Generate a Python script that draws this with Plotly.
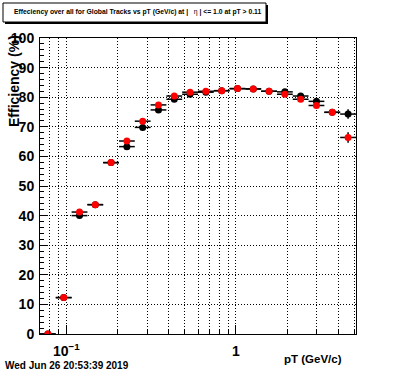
import math
import plotly.graph_objects as go

# ---- data ----
pt_edges = [0.07, 0.0867, 0.1075, 0.1332, 0.1650, 0.2045, 0.2534, 0.3140, 0.3890,
            0.4820, 0.5973, 0.7401, 0.9171, 1.1364, 1.4081, 1.7447, 2.1619, 2.6789,
            3.3194, 4.1131, 5.10]
eff_black = [0.0, 12.3, 40.0, 43.7, 57.9, 63.3, 69.8, 75.7, 79.3, 81.0,
             81.7, 82.2, 82.9, 82.8, 82.0, 81.8, 80.4, 78.6, 74.9, 74.3]
eff_red = [0.0, 12.3, 41.2, 43.7, 57.9, 65.2, 71.9, 77.4, 80.4, 81.7,
           82.0, 82.2, 82.9, 82.8, 82.0, 81.0, 79.3, 77.2, 74.9, 66.4]
err_black = [0.0, 0.3, 0.3, 0.3, 0.3, 0.3, 0.3, 0.3, 0.3, 0.3,
             0.3, 0.3, 0.3, 0.3, 0.4, 0.4, 0.5, 0.6, 0.9, 1.6]
err_red = [0.0, 0.3, 0.3, 0.3, 0.3, 0.3, 0.3, 0.3, 0.3, 0.3,
           0.3, 0.3, 0.3, 0.3, 0.4, 0.4, 0.5, 0.6, 1.0, 1.8]
x_major = [0.1, 1]
x_major_text = ["10<sup>\u22121</sup>", "1"]
x_minor = [0.08, 0.09, 0.2, 0.3, 0.4, 0.5, 0.6, 0.7, 0.8, 0.9, 2, 3, 4, 5]

lo = pt_edges[:-1]
hi = pt_edges[1:]
pt = [math.sqrt(a * b) for a, b in zip(lo, hi)]
ex_plus = [b - c for b, c in zip(hi, pt)]
ex_minus = [c - a for a, c in zip(lo, pt)]

W, H = 396, 372
L, R, T, B = 40, 40, 38, 38
FONT = "Liberation Sans"
DOT = "1px,2px"


def px2x(px):
    return (px - L) / (W - L - R)


def py2y(py):
    return (H - B - py) / (H - T - B)


fig = go.Figure()
for yv, ye, col in [(eff_black, err_black, "#000000"), (eff_red, err_red, "#ff0000")]:
    fig.add_trace(go.Scatter(
        x=pt, y=yv, mode="markers",
        marker=dict(symbol="circle", size=7, color=col, line=dict(width=0)),
        error_x=dict(type="data", symmetric=False, array=ex_plus, arrayminus=ex_minus,
                     color="#000000", thickness=1.5, width=0),
        error_y=dict(type="data", array=ye, color="#000000", thickness=1.5, width=0),
        showlegend=False, cliponaxis=True,
    ))

fig.update_layout(
    width=W, height=H,
    margin=dict(l=L, r=R, t=T, b=B, pad=0),
    paper_bgcolor="white", plot_bgcolor="white",
    font=dict(family=FONT, color="black"),
    xaxis=dict(
        type="log", range=[math.log10(0.07), math.log10(5.1)],
        tickmode="array", tickvals=x_major, ticktext=x_major_text,
        ticks="inside", ticklen=9, tickwidth=1, tickcolor="black",
        showgrid=True, gridcolor="black", gridwidth=1, griddash=DOT,
        minor=dict(tickmode="array", tickvals=x_minor, ticks="inside", ticklen=5,
                   tickwidth=1, tickcolor="black", showgrid=True,
                   gridcolor="black", gridwidth=1, griddash=DOT),
        showline=True, linecolor="black", linewidth=1, mirror=True,
        zeroline=False,
        tickfont=dict(family=FONT, size=14, color="black", weight="bold"),
        ticklabelstandoff=4,
    ),
    yaxis=dict(
        range=[0, 100], tickmode="linear", tick0=0, dtick=10,
        ticks="inside", ticklen=8, tickwidth=1, tickcolor="black",
        showgrid=True, gridcolor="black", gridwidth=1, griddash=DOT,
        minor=dict(dtick=2, ticks="inside", ticklen=4, tickwidth=1,
                   tickcolor="black", showgrid=False),
        showline=True, linecolor="black", linewidth=1, mirror=True,
        zeroline=False,
        tickfont=dict(family=FONT, size=14, color="black", weight="bold"),
        ticklabelstandoff=2,
    ),
)

# title box with shadow
fig.add_shape(type="rect", xref="paper", yref="paper",
              x0=px2x(5), x1=px2x(268), y0=py2y(24), y1=py2y(5),
              fillcolor="black", line=dict(width=0), layer="above")
fig.add_shape(type="rect", xref="paper", yref="paper",
              x0=px2x(3), x1=px2x(266), y0=py2y(22), y1=py2y(3),
              fillcolor="white", line=dict(color="black", width=1), layer="above")

fig.add_annotation(
    xref="paper", yref="paper", x=px2x(138), y=py2y(12.5),
    xanchor="center", yanchor="middle", showarrow=False,
    text="<b>Effeciency over all for Global Tracks vs pT (GeV/c) at |</b>   \u03b7 <b>| &lt;= 1.0 at pT &gt; 0.11</b>",
    font=dict(family=FONT, size=6.8, color="black"),
)
fig.add_annotation(
    xref="paper", yref="paper", x=px2x(14), y=py2y(81),
    xanchor="center", yanchor="middle", showarrow=False, textangle=-90,
    text="<b>Efficiency (%)</b>",
    font=dict(family=FONT, size=14, color="black"),
)
fig.add_annotation(
    xref="paper", yref="paper", x=px2x(344), y=py2y(359),
    xanchor="right", yanchor="middle", showarrow=False,
    text="<b>pT (GeV/c)</b>",
    font=dict(family=FONT, size=11.5, color="black"),
)
fig.add_annotation(
    xref="paper", yref="paper", x=px2x(3), y=py2y(365),
    xanchor="left", yanchor="middle", showarrow=False,
    text="<b>Wed Jun 26 20:53:39 2019</b>",
    font=dict(family=FONT, size=10, color="black"),
)

fig.write_html("out.html", config={"displayModeBar": False},
               post_script="document.body.style.margin='0px';")
